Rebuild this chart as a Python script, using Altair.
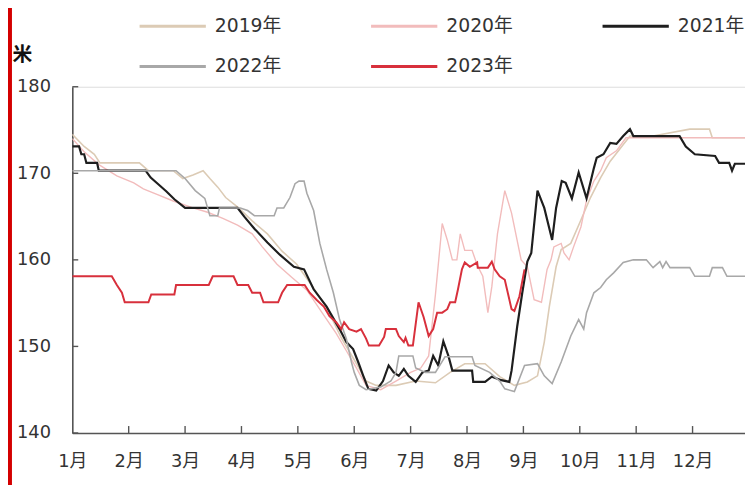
import altair as alt
import pandas as pd

# ---- data (x = months since 1 Jan, 0 = "1月") ----
years = ["2019年", "2020年", "2021年", "2022年", "2023年"]
colors = ["#dccbb5", "#f2bcbc", "#1e1e1e", "#a8a8a8", "#d8303c"]
widths = [1.6, 1.4, 2.2, 1.6, 2.0]

x19 = [0, 0.21, 0.39, 0.49, 1.19, 1.35, 1.79, 1.96, 2.14, 2.32, 2.44, 2.58, 2.72, 2.95, 3.19, 3.46,
       3.72, 3.98, 4.25, 4.51, 4.77, 5.04, 5.21, 5.39, 5.74, 6.09, 6.44, 6.70, 6.96, 7.32, 7.58, 7.84,
       8.07, 8.25, 8.37, 8.46, 8.58, 8.67, 8.84, 9.02, 9.19, 9.37, 9.54, 9.72, 9.89, 10.30, 10.95,
       11.30, 11.35, 12.05]
v19 = [174.5, 173.1, 172.2, 171.2, 171.2, 170.3, 170.3, 169.4, 169.8, 170.3, 169.4, 168.4, 167.2,
       166.0, 164.5, 163.0, 161.0, 159.5, 157.0, 154.5, 151.0, 148.0, 146.0, 145.5, 145.5, 146.0,
       145.8, 147.0, 148.0, 148.0, 146.5, 145.5, 145.9, 146.6, 150.5, 154.6, 159.2, 161.2, 161.9,
       164.6, 167.2, 169.5, 171.4, 172.9, 174.3, 174.3, 175.1, 175.1, 174.1, 174.1]

x20 = [0, 0.21, 0.47, 0.79, 1.09, 1.26, 1.49, 1.79, 2.14, 2.40, 2.67, 2.93, 3.19, 3.37, 3.63, 3.89,
       4.16, 4.42, 4.68, 4.86, 5.04, 5.21, 5.47, 5.74, 6.00, 6.18, 6.32, 6.44, 6.56, 6.65, 6.74, 6.82,
       6.88, 6.96, 7.09, 7.18, 7.28, 7.37, 7.44, 7.54, 7.67, 7.79, 7.84, 7.96, 8.07, 8.19, 8.32, 8.42,
       8.49, 8.54, 8.67, 8.72, 8.81, 8.89, 9.02, 9.12, 9.25, 9.37, 9.47, 9.65, 9.82, 12.05]
v20 = [174.0, 172.5, 171.0, 169.7, 168.9, 168.2, 167.6, 166.8, 166.0, 165.5, 164.8, 164.0, 163.0,
       161.5, 159.5, 158.0, 156.5, 154.0, 151.5, 149.5, 147.5, 145.5, 145.0, 146.0, 147.0, 147.5,
       148.9, 156.0, 164.2, 162.3, 160.0, 160.0, 163.0, 161.1, 161.1, 159.4, 158.1, 153.9, 156.9,
       163.0, 168.0, 165.4, 163.8, 160.0, 159.2, 155.4, 155.1, 158.9, 160.0, 161.5, 161.9, 160.8,
       160.0, 161.5, 163.8, 166.9, 169.1, 170.3, 171.8, 172.6, 174.1, 174.1]

x21 = [0, 0.12, 0.16, 0.21, 0.25, 0.44, 0.47, 1.30, 1.39, 1.53, 1.67, 1.81, 2.00, 2.93, 3.05, 3.23,
       3.46, 3.68, 3.93, 4.11, 4.28, 4.51, 4.74, 4.86, 4.98, 5.07, 5.16, 5.25, 5.39, 5.51, 5.61, 5.70,
       5.79, 5.88, 5.96, 6.09, 6.21, 6.32, 6.40, 6.49, 6.58, 6.67, 6.74, 7.09, 7.11, 7.32, 7.44, 7.61,
       7.75, 7.79, 7.89, 7.98, 8.07, 8.14, 8.25, 8.37, 8.51, 8.58, 8.68, 8.75, 8.86, 8.98, 9.12, 9.25,
       9.30, 9.42, 9.54, 9.65, 9.77, 9.89, 9.95, 10.77, 10.88, 11.04, 11.40, 11.47, 11.65, 11.70,
       11.75, 12.05]
v21 = [173.1, 173.1, 172.2, 172.2, 171.2, 171.2, 170.3, 170.3, 169.5, 168.7, 167.9, 167.0, 166.0,
       166.0, 165.0, 163.6, 162.0, 160.6, 159.2, 158.9, 156.6, 154.6, 152.0, 150.5, 149.7, 148.2,
       146.6, 145.1, 144.9, 146.0, 147.8, 147.0, 146.6, 147.4, 146.6, 145.9, 147.0, 147.2, 148.9,
       147.8, 150.6, 148.9, 147.2, 147.2, 145.9, 145.9, 146.5, 146.1, 145.9, 147.2, 152.3, 156.2,
       159.8, 160.8, 168.0, 166.0, 162.3, 166.0, 169.1, 168.9, 167.1, 170.1, 167.1, 170.6, 171.8,
       172.2, 173.5, 173.4, 174.3, 175.1, 174.3, 174.3, 173.1, 172.2, 172.0, 171.2, 171.2, 170.3,
       171.1, 171.1]

x22 = [0, 1.84, 2.00, 2.18, 2.35, 2.44, 2.58, 2.61, 2.98, 3.11, 3.23, 3.58, 3.63, 3.75, 3.86, 3.95,
       4.02, 4.11, 4.16, 4.28, 4.39, 4.51, 4.63, 4.74, 4.86, 4.95, 5.00, 5.09, 5.21, 5.47, 5.65, 5.74,
       5.79, 6.04, 6.09, 6.26, 6.44, 6.61, 7.09, 7.14, 7.40, 7.58, 7.67, 7.84, 8.02, 8.25, 8.37, 8.51,
       8.67, 8.84, 8.98, 9.07, 9.12, 9.25, 9.37, 9.47, 9.60, 9.77, 9.95, 10.18, 10.30, 10.42, 10.47,
       10.53, 10.60, 10.95, 11.04, 11.30, 11.35, 11.53, 11.61, 12.05]
v22 = [170.3, 170.3, 169.4, 168.0, 167.1, 165.1, 165.1, 166.0, 166.0, 165.7, 165.1, 165.1, 166.0,
       166.0, 167.2, 168.8, 169.1, 169.1, 167.7, 165.7, 161.9, 158.9, 156.2, 153.1, 150.9, 148.2,
       147.0, 145.5, 145.0, 145.3, 146.0, 147.0, 148.9, 148.9, 147.5, 147.0, 147.0, 148.8, 148.8,
       147.8, 147.0, 146.0, 145.1, 144.8, 147.8, 148.0, 146.6, 145.7, 148.2, 151.2, 153.1, 152.0,
       153.9, 156.2, 156.8, 157.7, 158.5, 159.7, 160.0, 160.0, 159.1, 159.8, 159.1, 159.8, 159.1,
       159.1, 158.1, 158.1, 159.1, 159.1, 158.1, 158.1]

x23 = [0, 0.70, 0.79, 0.88, 0.93, 1.35, 1.40, 1.81, 1.84, 2.42, 2.49, 2.86, 2.93, 3.12, 3.19, 3.33,
       3.39, 3.65, 3.72, 3.81, 4.12, 4.21, 4.33, 4.46, 4.56, 4.68, 4.77, 4.82, 4.91, 5.04, 5.12, 5.21,
       5.26, 5.44, 5.53, 5.56, 5.74, 5.79, 5.88, 5.91, 5.96, 6.04, 6.14, 6.23, 6.32, 6.40, 6.47, 6.56,
       6.65, 6.70, 6.79, 6.84, 6.91, 6.96, 7.05, 7.18, 7.19, 7.37, 7.44, 7.49, 7.58, 7.67, 7.79, 7.84,
       7.93, 8.02]
v23 = [158.1, 158.1, 157.1, 156.2, 155.1, 155.1, 156.0, 156.0, 157.1, 157.1, 158.1, 158.1, 157.1,
       157.1, 156.2, 156.2, 155.1, 155.1, 156.2, 157.1, 157.1, 156.2, 155.4, 154.6, 153.5, 152.8,
       152.0, 152.8, 152.0, 151.7, 152.0, 150.9, 150.1, 150.1, 151.1, 152.0, 152.0, 151.2, 150.5,
       151.0, 150.1, 150.1, 155.1, 153.4, 151.2, 152.0, 153.9, 153.9, 154.3, 155.1, 155.1, 156.6,
       158.9, 159.7, 159.2, 159.7, 159.1, 159.1, 159.8, 158.9, 158.1, 157.7, 154.3, 154.1, 155.8,
       158.9]

month_labels = ["1月", "2月", "3月", "4月", "5月", "6月", "7月", "8月", "9月", "10月", "11月", "12月"]
y_ticks = [140, 150, 160, 170, 180]
unit = "米"

# ---- build long table ----
series = [(x19, v19), (x20, v20), (x21, v21), (x22, v22), (x23, v23)]
rows = []
for yr, (xs, vs), w in zip(years, series, widths):
    for i, (a, b) in enumerate(zip(xs, vs)):
        rows.append({"year": yr, "m": a, "v": b, "order": i, "w": w})
df = pd.DataFrame(rows)

FONT = "DejaVu Sans, Noto Sans CJK SC"
XMAX = 11.93

label_expr = "[" + ",".join("'%s'" % s for s in month_labels) + "][datum.value]"

x_enc = alt.X("m:Q", scale=alt.Scale(domain=[0, XMAX], nice=False, zero=False),
              axis=alt.Axis(values=list(range(12)), labelExpr=label_expr, title=None, grid=False,
                            ticks=False, tickSize=0, labelPadding=20, labelFontSize=18,
                            labelFont=FONT, labelColor="#333333", domainColor="#555555",
                            domainWidth=1.6, labelFlush=False, labelOverlap=False))
y_enc = alt.Y("v:Q", scale=alt.Scale(domain=[140, 180], nice=False, zero=False),
              axis=alt.Axis(values=y_ticks, title=unit, titleAngle=0, titleX=-51, titleY=-33,
                            titleFontSize=20, titleFont=FONT, titleFontWeight="bold",
                            titleColor="#111111", titleAlign="center", titleBaseline="middle",
                            grid=False, ticks=False, tickSize=0, labelPadding=22,
                            labelFontSize=18, labelFont=FONT, labelColor="#333333",
                            domainColor="#555555", domainWidth=1.6))

# wide, flat legend line drawn as a custom path so the legend rows stay compact
lines = alt.Chart(df).mark_line(clip=True).encode(
    x=x_enc,
    y=y_enc,
    color=alt.Color("year:N", scale=alt.Scale(domain=years, range=colors),
                    legend=alt.Legend(orient="none", legendX=83, legendY=-80, direction="horizontal",
                                      columns=3, title=None, symbolType="M-2,0L2,0", symbolSize=1122,
                                      symbolStrokeWidth=3, labelFontSize=19, labelFont=FONT,
                                      labelColor="#333333", labelOffset=24, columnPadding=84,
                                      rowPadding=12, padding=0)),
    strokeWidth=alt.StrokeWidth("w:Q", scale=None, legend=None),
    order="order:Q",
)

ytick_df = pd.DataFrame({"v": y_ticks})
yticks = alt.Chart(ytick_df).mark_rule(color="#555555", strokeWidth=1.4).encode(
    y="v:Q", x=alt.value(0), x2=alt.value(6))

xtick_df = pd.DataFrame({"m": list(range(1, 12))})
xticks = alt.Chart(xtick_df).mark_rule(color="#555555", strokeWidth=1.4).encode(
    x="m:Q", y=alt.value(350), y2=alt.value(343))

stripe = alt.Chart(pd.DataFrame({"k": [0]})).mark_rule(color="#d40000", strokeWidth=4).encode(
    x=alt.value(-63), y=alt.value(-80), y2=alt.value(410))

chart = alt.layer(stripe, lines, yticks, xticks).properties(
    width=680, height=350,
    autosize=alt.AutoSizeParams(type="none"),
    padding={"left": 65, "top": 77, "right": 0, "bottom": 50},
).configure_view(stroke=None).configure(background="white")

chart.save("out.html", embed_options={"renderer": "svg", "actions": False})
